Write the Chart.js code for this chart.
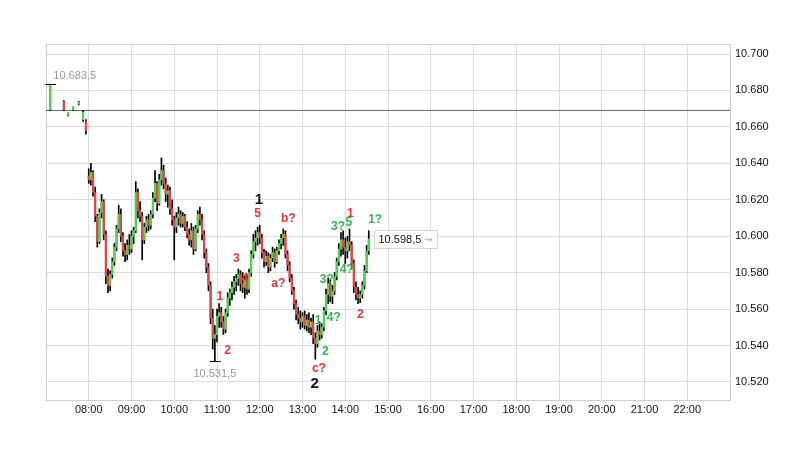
<!DOCTYPE html>
<html><head><meta charset="utf-8">
<script src="https://cdn.jsdelivr.net/npm/chart.js@4/dist/chart.umd.min.js"></script>
<style>html,body{margin:0;padding:0;background:#fff}#wrap{width:810px;height:449px}</style>
</head><body><div id="wrap"><canvas id="c" width="810" height="449"></canvas></div>
<script>
// ---- data ----
const times = ["07:06","07:25","07:31","07:38","07:46","07:52","07:56",
"08:00","08:03","08:06","08:09","08:12","08:15","08:18","08:21","08:24","08:27","08:30","08:33","08:36","08:39","08:42","08:45","08:48","08:51","08:54","08:57",
"09:00","09:03","09:06","09:09","09:12","09:15","09:18","09:21","09:24","09:27","09:30","09:33","09:36","09:39","09:42","09:45","09:48","09:51","09:54","09:57",
"10:00","10:03","10:06","10:09","10:12","10:15","10:18","10:21","10:24","10:27","10:30","10:33","10:36","10:39","10:42","10:45","10:48","10:51","10:54","10:57",
"11:00","11:03","11:06","11:09","11:12","11:15","11:18","11:21","11:24","11:27","11:30","11:33","11:36","11:39","11:42","11:45","11:48","11:51","11:54","11:57",
"12:00","12:03","12:06","12:09","12:12","12:15","12:18","12:21","12:24","12:27","12:30","12:33","12:36","12:39","12:42","12:45","12:48","12:51","12:54","12:57",
"13:00","13:03","13:06","13:09","13:12","13:15","13:18","13:21","13:24","13:27","13:30","13:33","13:36","13:39","13:42","13:45","13:48","13:51","13:54","13:57",
"14:00","14:03","14:06","14:09","14:12","14:15","14:18","14:21","14:24","14:27","14:30","14:33"];
const opens = [10669.5,10674,10666.5,10669.5,10672.5,10664,10663,
10633,10631,10635,10624,10611,10597,10613,10619,10601,10578,10573,10579,10586,10594,10604,10612,10600,10592,10590,10595,
10593,10600,10603,10624,10614,10611,10598,10605,10609,10606,10612,10621,10629,10618,10631,10636,10629,10623,10625,10615,
10609,10605,10610,10612,10607,10611,10605,10601,10598,10603,10593,10604,10612,10609,10601,10591,10583,10573,10555,10544,
10546,10556,10558,10553,10549,10558,10566,10569,10572,10575,10577,10579,10574,10572,10576,10571,10580,10590,10597,10599,
10602,10599,10591,10586,10589,10583,10588,10591,10586,10592,10596,10599,10601,10590,10584,10577,10570,10563,10557,10555,
10553,10556,10551,10554,10550,10553,10544,10541,10548,10546,10550,10559,10568,10574,10567,10570,10578,10586,10593,10598,
10594,10592,10597,10595,10585,10572,10568,10566,10568,10573,10581,10592];
const highs = [10683.5,10674.5,10668,10671,10674,10669,10664,
10637,10640,10636,10627,10612,10615,10623,10620,10603,10582,10581,10588,10596,10606,10617,10615,10602,10596,10598,10601,
10603,10605,10630,10626,10619,10613,10607,10611,10612,10614,10624,10636,10630,10634,10643,10639,10632,10628,10627,10620,
10611,10613,10616,10614,10613,10612,10608,10604,10607,10605,10606,10614,10616,10612,10603,10593,10585,10575,10560,10551,
10560,10563,10561,10556,10560,10569,10571,10575,10578,10579,10582,10581,10580,10578,10579,10582,10592,10601,10603,10605,
10606,10601,10593,10592,10591,10590,10594,10593,10594,10598,10601,10604,10603,10592,10586,10579,10572,10565,10561,10559,
10558,10559,10557,10558,10555,10557,10547,10551,10553,10552,10561,10571,10577,10576,10573,10580,10588,10596,10602,10603,
10599,10600,10604,10597,10587,10575,10572,10570,10575,10584,10595,10603];
const lows = [10669,10669,10666,10669,10672,10663,10656,
10629,10628,10622,10608,10594,10596,10610,10598,10574,10569,10570,10577,10584,10592,10602,10597,10589,10586,10587,10590,
10591,10596,10602,10610,10608,10587,10596,10602,10603,10604,10610,10619,10614,10617,10628,10626,10619,10616,10612,10606,
10587,10602,10606,10605,10605,10603,10599,10595,10594,10590,10592,10602,10606,10598,10588,10580,10570,10552,10538,10531.5,
10542,10550,10550,10546,10547,10556,10562,10565,10568,10570,10573,10570,10569,10566,10568,10569,10578,10588,10592,10595,
10596,10588,10583,10584,10580,10581,10586,10583,10585,10590,10593,10595,10588,10581,10575,10568,10560,10554,10552,10549,
10550,10549,10548,10547,10546,10541,10532.5,10539,10543,10544,10548,10557,10563,10564,10563,10568,10576,10584,10589,10590,
10585,10588,10592,10582,10569,10565,10563,10563.5,10566,10571,10580,10590];
const closes = [10683,10669.5,10668,10671,10673.5,10668,10658,
10631,10635,10624,10611,10597,10613,10619,10601,10578,10573,10579,10586,10594,10604,10612,10600,10592,10590,10595,10593,
10600,10603,10624,10614,10611,10598,10605,10609,10606,10612,10621,10629,10618,10631,10636,10629,10623,10625,10615,10609,
10605,10610,10612,10607,10611,10605,10601,10598,10603,10593,10604,10612,10609,10601,10591,10583,10573,10555,10544,10546,
10556,10558,10553,10549,10558,10566,10569,10572,10575,10577,10579,10574,10572,10576,10571,10580,10590,10597,10599,10602,
10599,10591,10586,10589,10583,10588,10591,10586,10592,10596,10599,10601,10590,10584,10577,10570,10563,10557,10555,10553,
10556,10551,10554,10550,10553,10544,10541,10548,10546,10550,10559,10568,10574,10567,10570,10578,10586,10593,10598,10594,
10592,10597,10595,10585,10572,10568,10566,10568,10573,10581,10592,10598.5];
const prevClose = 10669;
const xTickLabels = ["08:00","09:00","10:00","11:00","12:00","13:00","14:00","15:00","16:00","17:00","18:00","19:00","20:00","21:00","22:00"];
const yTickValues = [10520,10540,10560,10580,10600,10620,10640,10660,10680,10700];
const waveText  = ["1","5","b?","3","1","4","2","a?","3?","4?","1","2","c?","2","3?","5","1","4?","2","1?"];
const waveTimes = ["11:59","11:57","12:40","11:27","11:04","11:39","11:15","12:26","13:34","13:44","13:22","13:32","13:23","13:17","13:50","14:05","14:07","14:02","14:21","14:42"];
const wavePrice = [10620,10612.5,10609.5,10587.5,10567,10576.5,10537,10574,10576,10555.5,10553.5,10536.5,10527.5,10519,10605,10607.5,10612.5,10581.5,10557,10609];
const waveKind  = ["major","red","red","red","red","red","red","red","green","green","green","green","red","major","green","green","red","green","red","green"];

// ---- helpers ----
const toMin = s => { const [h,m] = s.split(":").map(Number); return h*60+m; };
const fmtDE = (v,d) => { const p = v.toFixed(d).split("."); p[0] = p[0].replace(/\B(?=(\d{3})+(?!\d))/g,"."); return p.join(","); };
const hhmm = m => String(Math.floor(m/60)).padStart(2,"0")+":"+String(m%60).padStart(2,"0");

const xs = times.map(toMin);
const wickData = xs.map((x,i)=>({x, y:[lows[i], highs[i]]}));
const bodyData = xs.map((x,i)=>({x, y:[Math.min(opens[i],closes[i]), Math.max(opens[i],closes[i])+ (opens[i]===closes[i]?0.3:0)]}));
const bodyColors = xs.map((x,i)=> closes[i]>opens[i] ? "#55d255" : (closes[i]<opens[i] ? "#e04848" : "#000"));

const X_MIN = toMin("07:00"), X_MAX = toMin("23:00");
const xTickVals = [X_MIN, ...xTickLabels.map(toMin), X_MAX];

const hiIdx = highs.indexOf(Math.max(...highs));
const loIdx = lows.indexOf(Math.min(...lows));

const kindStyle = {
  major: {color:"#111", font:"bold 15px 'Liberation Sans', Arial, sans-serif"},
  red:   {color:"#e8343c", font:"bold 12px 'Liberation Sans', Arial, sans-serif"},
  green: {color:"#33b552", font:"bold 12px 'Liberation Sans', Arial, sans-serif"}
};

const overlay = {
  id: "overlay",
  beforeDatasetsDraw(chart){
    const {ctx, chartArea:a} = chart;
    ctx.save();
    ctx.strokeStyle = "#cfcfcf"; ctx.lineWidth = 1;
    ctx.strokeRect(a.left+0.5, a.top+0.5, a.right-a.left, a.bottom-a.top);
    ctx.restore();
  },
  afterDatasetsDraw(chart){
    const {ctx} = chart;
    const xS = chart.scales.x, yS = chart.scales.y;
    ctx.save();
    // high / low markers
    ctx.strokeStyle = "#000"; ctx.lineWidth = 1;
    [[hiIdx, highs[hiIdx]], [loIdx, lows[loIdx]]].forEach(([i,v])=>{
      const y = Math.round(yS.getPixelForValue(v))+0.5;
      ctx.beginPath();
      ctx.moveTo(xS.getPixelForValue(xs[i]-7), y);
      ctx.lineTo(xS.getPixelForValue(xs[i]+8), y);
      ctx.stroke();
    });
    ctx.font = "11px 'Liberation Sans', Arial, sans-serif";
    ctx.fillStyle = "#999"; ctx.textBaseline = "middle"; ctx.textAlign = "left";
    ctx.fillText(fmtDE(highs[hiIdx],1), xS.getPixelForValue(xs[hiIdx])+3, yS.getPixelForValue(highs[hiIdx])-8);
    ctx.textAlign = "center";
    ctx.fillText(fmtDE(lows[loIdx],1), xS.getPixelForValue(xs[loIdx]), yS.getPixelForValue(lows[loIdx])+13);
    // wave labels
    ctx.textAlign = "center"; ctx.textBaseline = "middle";
    waveText.forEach((t,i)=>{
      const st = kindStyle[waveKind[i]];
      ctx.font = st.font; ctx.fillStyle = st.color;
      ctx.fillText(t, xS.getPixelForValue(toMin(waveTimes[i])), yS.getPixelForValue(wavePrice[i]));
    });
    // last price box
    const li = closes.length-1;
    const bx = Math.round(xS.getPixelForValue(xs[li]))+5.5;
    const by = Math.round(yS.getPixelForValue(closes[li]));
    ctx.font = "11px 'Liberation Sans', Arial, sans-serif";
    const txt = fmtDE(closes[li],1);
    const tw = ctx.measureText(txt).width;
    ctx.fillStyle = "#fff"; ctx.strokeStyle = "#d4d4d4";
    ctx.fillRect(bx, by-8.5, tw+20, 18); ctx.strokeRect(bx, by-8.5, tw+20, 18);
    ctx.fillStyle = "#111"; ctx.textAlign = "left";
    ctx.fillText(txt, bx+4, by+1);
    ctx.fillStyle = "#bbb"; ctx.font = "bold 10px 'DejaVu Sans', sans-serif";
    ctx.fillText("\u2192", bx+tw+7, by+1);
    ctx.restore();
  }
};

new Chart(document.getElementById("c"), {
  type: "bar",
  data: { datasets: [
    { type:"line", data:[{x:X_MIN,y:prevClose},{x:X_MAX,y:prevClose}], borderColor:"#666", borderWidth:1, pointRadius:0, order:3 },
    { data: wickData, backgroundColor:"#000", barThickness:1, grouped:false, order:2 },
    { data: bodyData, backgroundColor: bodyColors, barThickness:1.6, grouped:false, order:1 }
  ]},
  options: {
    responsive:false, animation:false, devicePixelRatio:1,
    layout:{ padding:{left:46, top:44, right:0, bottom:0} },
    plugins:{ legend:{display:false}, tooltip:{enabled:false} },
    scales:{
      x:{ type:"linear", min:X_MIN, max:X_MAX, offset:false,
          afterBuildTicks: s => { s.ticks = xTickVals.map(v=>({value:v})); },
          afterFit: s => { s.height = 49; },
          grid:{ color:"#dcdcdc", drawTicks:false, offset:false },
          border:{ color:"#cfcfcf" },
          ticks:{ autoSkip:false, maxRotation:0, padding:3, color:"#111",
                  font:{family:"'Liberation Sans', Arial, sans-serif", size:11},
                  callback: v => (v===X_MIN||v===X_MAX) ? "" : hhmm(v) } },
      y:{ type:"linear", position:"right", min:10510.1, max:10705.5,
          afterBuildTicks: s => { s.ticks = yTickValues.map(v=>({value:v})); },
          afterFit: s => { s.width = 80; },
          grid:{ color:"#dcdcdc", drawTicks:false },
          border:{ color:"#cfcfcf" },
          ticks:{ padding:5, color:"#111",
                  font:{family:"'Liberation Sans', Arial, sans-serif", size:11},
                  callback: v => fmtDE(v,0) } }
    }
  },
  plugins:[overlay]
});
</script></body></html>
